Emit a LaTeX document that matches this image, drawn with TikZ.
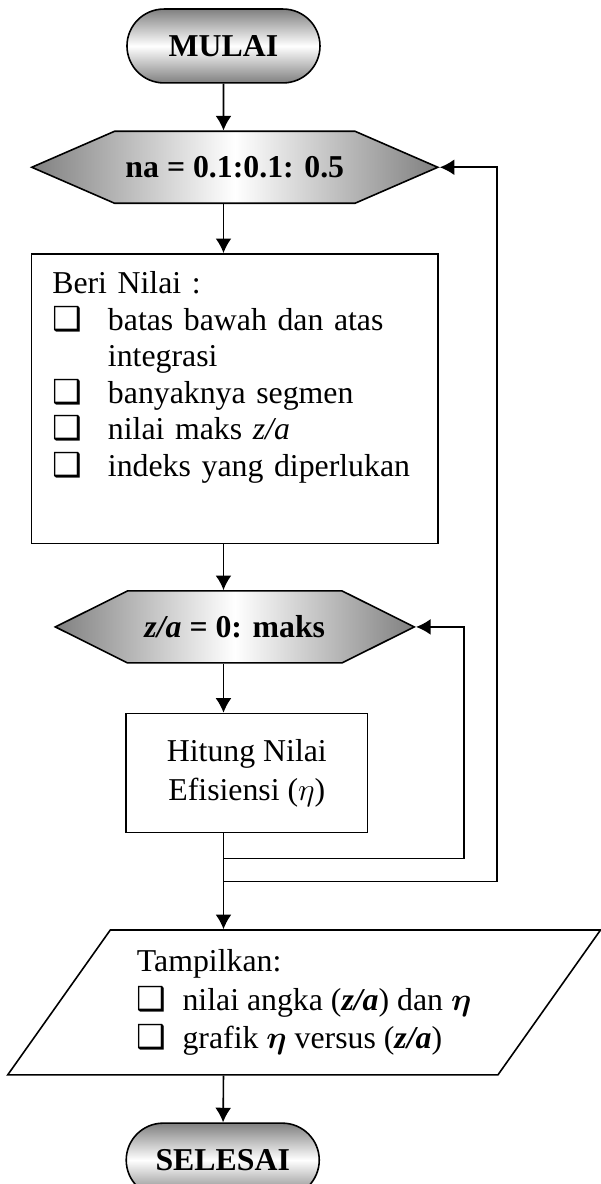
\documentclass[tikz,border=0pt]{standalone}
\usepackage{amsmath}
\usepackage{fontspec}
\setmainfont{Liberation Serif}
\newfontfamily\dingfont{DejaVu Sans}
\usepackage{tikz}
\usetikzlibrary{positioning,calc,arrows.meta,shapes.misc,shapes.symbols,shapes.geometric}
\usepackage{xcolor}
\definecolor{tepi}{RGB}{128,128,128}

\newcommand{\kotak}{{\dingfont\fontsize{12.5}{12}\selectfont ❑}}

\tikzset{
  terminal/.style={draw, rounded rectangle, top color=tepi, bottom color=tepi, middle color=white, minimum width=2.56cm, minimum height=0.98cm, inner sep=0pt, font=\fontsize{12}{13.8}\selectfont\bfseries},
  ulang/.style={draw, signal, signal to=west and east, left color=tepi, right color=tepi, middle color=white, minimum height=0.955cm, inner sep=0pt, font=\fontsize{12}{13.8}\selectfont\bfseries},
  proses/.style={draw, rectangle, fill=white},
  keluaran/.style={draw, trapezium, trapezium left angle=50.4, trapezium right angle=129.6, trapezium stretches=true, minimum width=7.88cm, minimum height=1.92cm, inner sep=0pt, align=left, font=\fontsize{12}{14.7}\selectfont}
}

\begin{document}
\begin{tikzpicture}[>={Latex[length=5.5pt,width=6pt]}, line width=0.6pt]
        \useasboundingbox (0,0) rectangle (7.958,-15.703);

        \node[terminal] (mulai) at (2.964,-0.610) {MULAI};
        \node[ulang, minimum width=5.385cm, signal pointer angle=47, below=0.62cm of mulai, xshift=0.15cm] (ulangna) {na = 0.1:0.1: 0.5};
        \node[proses, below=0.65cm of ulangna, text width=4.84cm, inner xsep=7.9pt, inner ysep=6.6pt, align=left, font=\fontsize{12}{13.8}\selectfont] (beri) {Beri Nilai :\\
          \makebox[21pt][l]{\kotak}batas bawah dan atas\\
          \hspace*{21pt}integrasi\\
          \makebox[21pt][l]{\kotak}banyaknya segmen\\
          \makebox[21pt][l]{\kotak}nilai maks \textit{z/a}\\
          \makebox[21pt][l]{\kotak}indeks yang diperlukan\\[4.9pt]\mbox{}};
        \node[ulang, minimum width=4.76cm, signal pointer angle=53, below=0.61cm of beri] (ulangza) {\textit{z/a} = 0: maks};
        \node[proses, minimum width=3.2cm, minimum height=1.58cm, below=0.65cm of ulangza, xshift=0.16cm, align=center, font=\fontsize{12}{14.7}\selectfont] (hitung) {Hitung Nilai\\Efisiensi ($\eta$)};
        \node[keluaran, below=1.27cm of hitung, xshift=0.76cm] (tampil) {Tampilkan:\\
          \kotak\hspace{0.5em}nilai angka (\textbf{\textit{z/a}}) dan $\boldsymbol{\eta}$\\
          \kotak\hspace{0.5em}grafik $\boldsymbol{\eta}$ versus (\textbf{\textit{z/a}})};
        \node[terminal, below=0.62cm of tampil, xshift=-1.08cm] (selesai) {SELESAI};

        \coordinate (cabang1) at ($(mulai |- hitung.south)+(0,-0.33)$);
        \coordinate (cabang2) at ($(cabang1)+(0,-0.305)$);
        \coordinate (balik1) at ($(ulangza.east)+(0.637,0)$);
        \coordinate (balik2) at ($(ulangna.east)+(0.756,0)$);

        \draw[->] (mulai) -- (mulai |- ulangna.north);
        \draw[->] (mulai |- ulangna.south) -- (mulai |- beri.north);
        \draw[->] (mulai |- beri.south) -- (mulai |- ulangza.north);
        \draw[->] (mulai |- ulangza.south) -- (mulai |- hitung.north);
        \draw[->] (mulai |- hitung.south) -- (mulai |- tampil.north);
        \draw[->] (mulai |- tampil.south) -- (selesai);
        \draw[->] (cabang1) -| (balik1) -- (ulangza.east);
        \draw[->] (cabang2) -| (balik2) -- (ulangna.east);
    \end{tikzpicture}
\end{document}
